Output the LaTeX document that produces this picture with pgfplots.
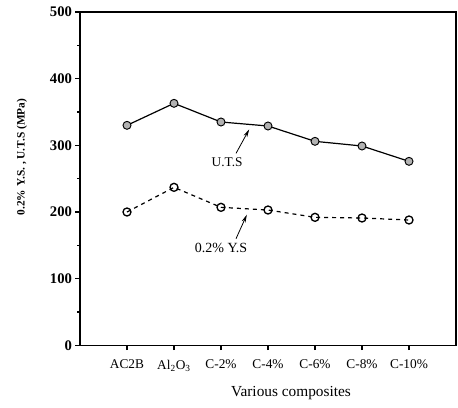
\documentclass[border=0pt]{standalone}
\usepackage{pgfplots}
\pgfplotsset{compat=1.18}
\usepackage{fontspec}
\setmainfont{Liberation Serif}
\usetikzlibrary{arrows.meta}

\begin{document}
\begin{tikzpicture}
\begin{axis}[
  width=282pt, height=250pt,
  scale only axis,
  xmin=-1, xmax=7,
  ymin=0, ymax=500,
  xtick={0,1,2,3,4,5,6},
  xticklabels={AC2B, Al\textsubscript{2}O\textsubscript{3}, C-2\%, C-4\%, C-6\%, C-8\%, C-10\%},
  ytick={0,100,200,300,400,500},
  minor y tick num=1,
  tick align=outside,
  xtick pos=bottom, ytick pos=left,
  major tick length=3.5pt, minor tick length=2pt,
  tick style={black, line width=0.8pt},
  axis line style={line width=1pt},
  /pgf/number format/assume math mode=true,
  yticklabel style={font=\fontsize{11}{12}\selectfont\bfseries, xshift=1pt},
  xticklabel style={font=\fontsize{10}{12}\selectfont, yshift=-4pt},
  xlabel={Various composites},
  ylabel={0.2\% Y.S. , U.T.S (MPa)},
  xlabel style={font=\fontsize{11.5}{13}\selectfont,
    at={(axis cs:3.49,0)}, anchor=center, yshift=-36pt},
  ylabel style={font=\fontsize{8.5}{10}\selectfont\bfseries,
    at={(axis description cs:0,0.565)}, anchor=center, yshift=43.5pt},
  clip=false,
]
% Ultimate tensile strength
\addplot[black, line width=0.9pt, mark=*, mark size=3pt,
  mark options={fill=gray!60, draw=black, line width=0.7pt}]
  coordinates {(0,330) (1,363) (2,335) (3,329) (4,306) (5,299) (6,276)};
% 0.2% proof (yield) strength
\addplot[black, line width=0.9pt, dashed, mark=o, mark size=3pt,
  mark options={solid, fill=white, line width=1pt}]
  coordinates {(0,200) (1,237) (2,207) (3,203) (4,192) (5,191) (6,188)};

\node[font=\fontsize{10}{12}\selectfont] at (axis cs:2.13,275) {U.T.S};
\draw[-{Stealth[length=6pt,width=3pt]}, line width=0.6pt]
  (axis cs:2.32,288) -- (axis cs:2.6,324);
\node[font=\fontsize{10.5}{12}\selectfont] at (axis cs:2.0,146) {0.2\% Y.S};
\draw[-{Stealth[length=6pt,width=3pt]}, line width=0.6pt]
  (axis cs:2.32,160) -- (axis cs:2.55,196);
\end{axis}
\pgfresetboundingbox
\path ([shift={(-60pt,-46.5pt)}]current axis.south west)
  rectangle ([shift={(1.5pt,9pt)}]current axis.north east);
\end{tikzpicture}
\end{document}
